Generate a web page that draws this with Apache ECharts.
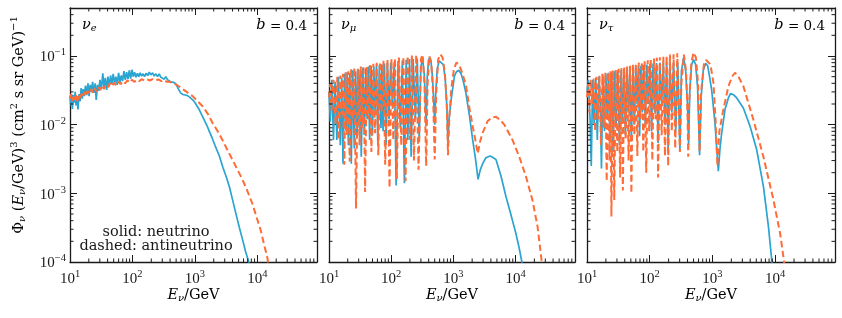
<!DOCTYPE html>
<html><head><meta charset="utf-8">
<script src="https://cdn.jsdelivr.net/npm/echarts@6/dist/echarts.min.js"></script>
<style>html,body{margin:0;padding:0;background:#fff}#c{width:842px;height:318px}</style>
</head><body><div id="c"></div>
<script>
// ---------------- data: [E_nu (GeV), flux * (E/GeV)^3] ----------------
const nueNeutrino = [[10,0.026],[10.3,0.019],[10.6,0.028],[10.9,0.017],[11.3,0.027],[11.7,0.021],[12.1,0.030],[12.5,0.019],[13.0,0.026],[13.4,0.0166],[14.0,0.028],[14.5,0.022],[15.1,0.034],[15.7,0.024],[16.3,0.033],[17.0,0.026],[17.7,0.037],[18.5,0.027],[19.4,0.040],[20.2,0.026],[21.1,0.038],[22.0,0.030],[23.0,0.042],[24.2,0.029],[25.3,0.040],[26.3,0.023],[27.5,0.038],[28.8,0.031],[30.2,0.045],[31.8,0.033],[33.5,0.056],[35.0,0.035],[36.8,0.048],[38.6,0.032],[40.5,0.050],[42.5,0.036],[44.6,0.052],[46.8,0.039],[49.2,0.055],[51.7,0.040],[54.3,0.050],[57.0,0.038],[60.0,0.057],[63.0,0.041],[66.2,0.052],[69.5,0.043],[73.0,0.060],[76.7,0.045],[80.6,0.058],[84.7,0.046],[89.0,0.062],[93.5,0.047],[98.2,0.063],[103,0.050],[108,0.058],[114,0.049],[120,0.056],[126,0.050],[133,0.057],[140,0.051],[148,0.055],[156,0.050],[165,0.056],[175,0.052],[186,0.058],[197,0.053],[210,0.057],[223,0.051],[237,0.055],[252,0.050],[268,0.055],[285,0.049],[303,0.052],[322,0.046],[342,0.050],[364,0.045],[387,0.046],[412,0.042],[440,0.044],[470,0.041],[505,0.038],[545,0.033],[590,0.029],[640,0.0275],[700,0.027],[760,0.0265],[830,0.025],[920,0.023],[1000,0.021],[1170,0.0166],[1350,0.0127],[1550,0.0098],[1700,0.008],[1900,0.0063],[2150,0.0047],[2460,0.0035],[2800,0.0024],[3200,0.0017],[3560,0.00125],[4000,0.00081],[4500,0.00052],[5130,0.00032],[5800,0.00021],[6500,0.00014],[6900,0.000117],[7500,0.00009],[8200,0.00007]];
const nueAntineutrino = [[10,0.024],[10.4,0.028],[10.8,0.022],[11.3,0.027],[11.8,0.023],[12.4,0.028],[13.0,0.021],[13.7,0.026],[14.4,0.023],[15.2,0.028],[16.0,0.025],[17.0,0.030],[18.0,0.026],[19.2,0.031],[20.4,0.028],[21.8,0.033],[23.2,0.029],[24.8,0.034],[26.5,0.030],[28.4,0.035],[30.4,0.032],[32.6,0.037],[35,0.033],[37.6,0.038],[40.5,0.035],[43.6,0.040],[47,0.036],[50.8,0.041],[55,0.037],[59.5,0.042],[64.5,0.039],[70,0.043],[76,0.040],[83,0.044],[90,0.041],[98,0.045],[107,0.042],[117,0.045],[128,0.043],[140,0.046],[155,0.044],[170,0.046],[190,0.044],[210,0.046],[235,0.044],[260,0.0455],[290,0.043],[320,0.0445],[355,0.042],[395,0.042],[440,0.040],[500,0.0385],[565,0.0357],[700,0.031],[918,0.026],[1100,0.022],[1327,0.0185],[1600,0.0145],[1915,0.0106],[2300,0.0081],[2760,0.006],[3300,0.0043],[3980,0.0031],[4800,0.0022],[5750,0.0016],[7000,0.00105],[8300,0.00071],[9700,0.00045],[11300,0.00029],[12800,0.00018],[14400,0.000117],[15500,0.00008]];
const numuNeutrino = [[10,0.03],[10.5,0.011],[11.1,0.045],[11.8,0.006],[12.5,0.042],[13.4,0.006],[14.2,0.05],[15.2,0.005],[16.0,0.048],[16.8,0.0027],[17.8,0.055],[18.8,0.008],[19.6,0.058],[20.5,0.005],[21.6,0.056],[22.8,0.0027],[24.1,0.062],[25.5,0.0045],[26.8,0.06],[28.2,0.0064],[29.3,0.065],[30.5,0.009],[31.7,0.063],[33,0.0034],[35,0.068],[37,0.0071],[39,0.066],[41,0.012],[43,0.07],[45,0.006],[47.5,0.072],[50,0.0071],[52.5,0.07],[55,0.015],[58,0.075],[61,0.005],[64.5,0.073],[68.6,0.0089],[71,0.076],[74,0.008],[78,0.078],[82.5,0.0051],[87,0.08],[92,0.012],[98,0.08],[105,0.02],[112,0.082],[120,0.0013],[129,0.085],[140,0.009],[151,0.086],[163,0.0014],[174,0.088],[185,0.006],[197,0.09],[209,0.0034],[225,0.09],[245,0.012],[262,0.092],[282,0.006],[300,0.07],[320,0.092],[342,0.05],[364,0.0095],[380,0.05],[398,0.088],[416,0.095],[435,0.085],[460,0.05],[485,0.02],[500,0.01],[520,0.03],[550,0.065],[590,0.085],[635,0.089],[690,0.075],[740,0.045],[785,0.018],[818,0.005],[850,0.012],[918,0.023],[1037,0.051],[1120,0.059],[1220,0.062],[1330,0.055],[1450,0.042],[1585,0.029],[1800,0.014],[2040,0.006],[2250,0.0033],[2490,0.0016],[2700,0.0022],[2950,0.0027],[3330,0.0033],[3870,0.0035],[4400,0.0033],[4830,0.0031],[5800,0.0018],[7000,0.00089],[8500,0.00047],[10100,0.00026],[11400,0.00016],[12600,0.0001],[13500,0.00007]];
const numuAntineutrino = [[10,0.025],[10.5,0.04],[11,0.016],[11.8,0.045],[12.8,0.01],[13.6,0.05],[14.5,0.006],[15.2,0.052],[16,0.014],[16.8,0.055],[17.6,0.0026],[18.5,0.058],[19.5,0.007],[20.5,0.06],[21.5,0.0029],[22.7,0.065],[24,0.012],[25.5,0.068],[27.2,0.0006],[29,0.065],[31,0.005],[32.5,0.07],[34,0.009],[36,0.072],[38,0.00105],[40.5,0.07],[43,0.012],[45.5,0.075],[48,0.004],[51.5,0.077],[55,0.0075],[58.5,0.08],[62,0.0036],[66,0.082],[70,0.015],[75,0.085],[80,0.0026],[87,0.088],[94,0.0012],[101,0.09],[108,0.006],[115,0.092],[123,0.0016],[133,0.095],[145,0.005],[157,0.098],[170,0.0015],[184,0.1],[200,0.006],[215,0.102],[232,0.003],[252,0.104],[275,0.0022],[300,0.09],[320,0.105],[342,0.04],[365,0.0025],[385,0.04],[410,0.1],[440,0.08],[470,0.03],[500,0.0031],[530,0.03],[570,0.09],[615,0.106],[670,0.095],[730,0.055],[780,0.02],[818,0.0036],[860,0.013],[930,0.035],[1020,0.065],[1117,0.08],[1230,0.075],[1400,0.055],[1585,0.038],[1800,0.018],[2040,0.0095],[2250,0.006],[2460,0.0038],[2700,0.0058],[2950,0.0076],[3530,0.0112],[4200,0.0128],[4830,0.013],[5600,0.0118],[6580,0.01],[8900,0.006],[11450,0.0034],[14700,0.00175],[18600,0.0008],[22500,0.00033],[26300,0.0001],[28000,0.00006]];
const nutauNeutrino = [[10,0.03],[10.5,0.045],[11.2,0.012],[11.7,0.0025],[12.3,0.045],[13.0,0.01],[13.8,0.048],[14.6,0.006],[15.5,0.05],[16.3,0.02],[17.0,0.0023],[17.9,0.052],[19,0.008],[20,0.055],[21,0.012],[22,0.057],[23.2,0.006],[24.5,0.058],[26,0.004],[27.5,0.06],[29,0.009],[31,0.062],[33,0.005],[35,0.063],[37,0.012],[39,0.065],[41,0.007],[43.5,0.066],[46,0.015],[48.5,0.067],[51,0.006],[54,0.068],[57,0.01],[60,0.07],[63,0.02],[66,0.071],[69,0.0068],[72.5,0.072],[76,0.015],[80,0.074],[85,0.01],[90,0.075],[95,0.02],[101,0.077],[107,0.008],[113,0.078],[120,0.015],[128,0.079],[136,0.0054],[145,0.08],[155,0.02],[165,0.08],[175,0.01],[186,0.082],[197,0.0045],[210,0.083],[225,0.015],[240,0.08],[260,0.008],[280,0.08],[303,0.0043],[320,0.06],[347,0.095],[375,0.06],[400,0.02],[417,0.0051],[435,0.03],[465,0.075],[500,0.089],[540,0.075],[580,0.035],[624,0.0036],[660,0.025],[714,0.062],[780,0.078],[840,0.072],[900,0.05],[970,0.0325],[1097,0.0106],[1170,0.0045],[1242,0.0021],[1320,0.0045],[1403,0.0075],[1585,0.0166],[1795,0.0245],[1950,0.0285],[2200,0.027],[2440,0.0245],[3110,0.0175],[3980,0.0095],[5080,0.0043],[6500,0.00126],[7810,0.00033],[8830,0.000106],[9200,0.00007]];
const nutauAntineutrino = [[10,0.025],[10.4,0.04],[10.9,0.015],[11.5,0.045],[12.1,0.02],[12.8,0.047],[13.5,0.008],[14.2,0.05],[15,0.012],[15.8,0.052],[16.7,0.005],[17.6,0.055],[18.6,0.009],[19.6,0.057],[20.6,0.0015],[21.7,0.058],[22.8,0.003],[23.7,0.06],[24.5,0.00046],[25.8,0.062],[27.2,0.0008],[28.8,0.063],[30.4,0.004],[32,0.065],[33.7,0.0017],[35.4,0.067],[37.3,0.0011],[39.3,0.068],[41.4,0.006],[43.6,0.07],[46,0.003],[48.5,0.072],[51,0.001],[54,0.075],[57,0.007],[60,0.077],[63.5,0.0035],[67,0.08],[71,0.012],[75,0.082],[79,0.004],[83,0.085],[88,0.002],[93,0.087],[98,0.008],[104,0.09],[110,0.003],[117,0.092],[124,0.012],[130,0.094],[136,0.0017],[145,0.096],[155,0.007],[165,0.098],[175,0.0035],[186,0.1],[197,0.0025],[210,0.105],[225,0.008],[240,0.106],[255,0.0045],[275,0.11],[303,0.004],[320,0.04],[350,0.105],[380,0.06],[400,0.015],[411,0.0034],[425,0.02],[460,0.08],[500,0.112],[545,0.095],[590,0.04],[624,0.004],[660,0.03],[730,0.075],[790,0.088],[840,0.089],[930,0.075],[1040,0.04],[1120,0.012],[1200,0.0025],[1290,0.008],[1493,0.0166],[1795,0.036],[2050,0.05],[2290,0.057],[2600,0.05],[3110,0.0364],[4500,0.0118],[6500,0.0034],[9400,0.0008],[12000,0.00026],[13900,0.0001],[14800,0.00006]];

const panelFlavours = ['e', 'μ', 'τ'];
const xRange = [10, 90000];
const yRange = [1e-4, 0.5];
const xMinorTicks = [20,30,40,50,60,70,80,90,200,300,400,500,600,700,800,900,2000,3000,4000,5000,6000,7000,8000,9000,20000,30000,40000,50000,60000,70000,80000];
const yMinorTicks = [2e-4,3e-4,4e-4,5e-4,6e-4,7e-4,8e-4,9e-4,2e-3,3e-3,4e-3,5e-3,6e-3,7e-3,8e-3,9e-3,0.02,0.03,0.04,0.05,0.06,0.07,0.08,0.09,0.2,0.3,0.4];

const panels = [[nueNeutrino, nueAntineutrino],[numuNeutrino, numuAntineutrino],[nutauNeutrino, nutauAntineutrino]];

// ---------------- styling ----------------
const NUM = '"Liberation Serif","Times New Roman",serif';
const TXT = '"DejaVu Serif",serif';
const INK = '#1a1a1a';
const BLUE = '#2aa4d0';
const ORANGE = '#ff6c37';
const gridRects = [
  {left:70, top:8, width:247, height:254},
  {left:329, top:8, width:246, height:254},
  {left:587, top:8, width:248, height:254}
];
const rich = {
  b:{fontFamily:NUM, fontSize:15, lineHeight:18, verticalAlign:'bottom', color:INK},
  s:{fontFamily:NUM, fontSize:10.5, lineHeight:8, verticalAlign:'top', color:INK},
  t:{fontFamily:TXT, fontSize:14.5, lineHeight:18, verticalAlign:'bottom', color:INK},
  t2:{fontFamily:TXT, fontSize:13.5, lineHeight:18, verticalAlign:'bottom', color:INK},
  ti:{fontFamily:TXT, fontSize:14.5, lineHeight:18, verticalAlign:'bottom', fontStyle:'italic', color:INK},
  tu:{fontFamily:TXT, fontSize:10, lineHeight:10, verticalAlign:'bottom', fontStyle:'italic', color:INK},
  ts:{fontFamily:TXT, fontSize:10, lineHeight:8, verticalAlign:'top', color:INK}
};
function powLabel(v){
  const e = Math.round(Math.log10(v));
  return '{b|10}{s|' + (e < 0 ? '\u2212' + (-e) : String(e)) + '}';
}
const axisLineStyle = {show:true, lineStyle:{color:INK, width:1.3}};
const majorTick = {show:true, inside:true, length:7, lineStyle:{color:INK, width:1}};

const xAxes = [], yAxes = [], series = [], graphics = [];
gridRects.forEach((g, i) => {
  xAxes.push({type:'log', logBase:10, gridIndex:i, min:xRange[0], max:xRange[1], position:'bottom',
    axisLine:axisLineStyle, axisTick:majorTick, splitLine:{show:false}, minorTick:{show:false},
    axisLabel:{show:true, margin:7, formatter:powLabel, rich:rich, showMaxLabel:false, showMinLabel:true}});
  xAxes.push({type:'log', logBase:10, gridIndex:i, min:xRange[0], max:xRange[1], position:'top',
    axisLine:axisLineStyle, axisTick:majorTick, splitLine:{show:false}, axisLabel:{show:false}});
  yAxes.push({type:'log', logBase:10, gridIndex:i, min:yRange[0], max:yRange[1], position:'left',
    axisLine:axisLineStyle, axisTick:majorTick, splitLine:{show:false},
    axisLabel:{show:i===0, margin:4, formatter:powLabel, rich:rich, showMaxLabel:false}});
  yAxes.push({type:'log', logBase:10, gridIndex:i, min:yRange[0], max:yRange[1], position:'right',
    axisLine:axisLineStyle, axisTick:majorTick, splitLine:{show:false}, axisLabel:{show:false}});
  const [nu, anu] = panels[i];
  series.push({type:'line', xAxisIndex:2*i, yAxisIndex:2*i, data:nu, showSymbol:false, symbol:'none',
    lineStyle:{color:BLUE, width:1.7}, z:2, silent:true});
  series.push({type:'line', xAxisIndex:2*i, yAxisIndex:2*i, data:anu, showSymbol:false, symbol:'none',
    lineStyle:{color:ORANGE, width:2, type:[6.5,3.5]}, z:3, silent:true});
  series.push({type:'custom', xAxisIndex:2*i, yAxisIndex:2*i, data:[[xRange[0], yRange[0]]], silent:true, z:5, clip:false,
    renderItem:function(params, api){
      const cs = params.coordSys; const L = 3.5; const ch = [];
      const st = {stroke:INK, lineWidth:1};
      xMinorTicks.forEach(v => {
        const px = api.coord([v, yRange[0]])[0];
        ch.push({type:'line', shape:{x1:px, y1:cs.y+cs.height, x2:px, y2:cs.y+cs.height-L}, style:st});
        ch.push({type:'line', shape:{x1:px, y1:cs.y, x2:px, y2:cs.y+L}, style:st});
      });
      yMinorTicks.forEach(v => {
        const py = api.coord([xRange[0], v])[1];
        ch.push({type:'line', shape:{x1:cs.x, y1:py, x2:cs.x+L, y2:py}, style:st});
        ch.push({type:'line', shape:{x1:cs.x+cs.width, y1:py, x2:cs.x+cs.width-L, y2:py}, style:st});
      });
      return {type:'group', children:ch};
    }});
  graphics.push({type:'text', x:g.left+12, y:24, style:{text:'{ti|ν}{tu|' + panelFlavours[i] + '}', rich:rich, align:'left', verticalAlign:'middle'}});
  graphics.push({type:'text', x:g.left+g.width-10, y:24, style:{text:'{ti|b}{t2| = 0.4}', rich:rich, align:'right', verticalAlign:'middle'}});
  graphics.push({type:'text', x:g.left+g.width/2, y:294, style:{text:'{ti|E}{tu|ν}{t|/GeV}', rich:rich, align:'center', verticalAlign:'middle'}});
});
graphics.push({type:'text', x:156, y:232, style:{text:'solid: neutrino', font:'14.5px ' + TXT, fill:INK, align:'center', verticalAlign:'middle'}});
graphics.push({type:'text', x:156, y:246, style:{text:'dashed: antineutrino', font:'14.5px ' + TXT, fill:INK, align:'center', verticalAlign:'middle'}});
graphics.push({type:'text', x:18, y:125, rotation:Math.PI/2,
  style:{text:'{t|Φ}{tu|ν}{t| (}{ti|E}{tu|ν}{t|/GeV)}{ts|3}{t| (cm}{ts|2}{t| s sr GeV)}{ts|\u22121}', rich:rich, align:'center', verticalAlign:'middle'}});

const chart = echarts.init(document.getElementById('c'), null, {renderer:'canvas'});
chart.setOption({
  animation:false,
  backgroundColor:'#fff',
  grid:gridRects,
  xAxis:xAxes,
  yAxis:yAxes,
  series:series,
  graphic:graphics
});
</script>
</body></html>
